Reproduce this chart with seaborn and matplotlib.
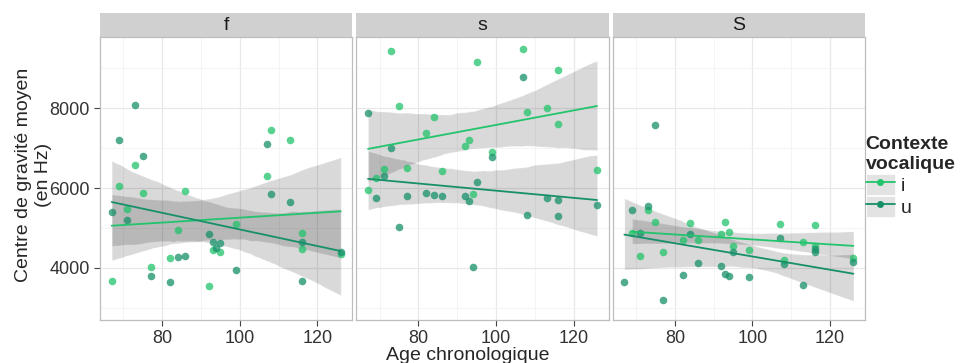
import numpy as np
import pandas as pd
import matplotlib
matplotlib.use('Agg')
import matplotlib.pyplot as plt
import seaborn as sns
from matplotlib.patches import Rectangle, Patch
from matplotlib.lines import Line2D

# age of each child (months), one i and one u value per child and per panel
ages = [67, 69, 71, 73, 75, 77, 82, 84, 86, 92, 93, 94, 95, 99, 107, 108, 113, 116, 116, 126]

f_i = [3680, 6050, 5480, 6570, 5880, 4030, 4240, 4960, 5920, 3540,
       4460, np.nan, 4410, 5110, 6300, 7440, 7200, 4880, 4480, 4350]
f_u = [5400, 7190, 5190, 8080, 6800, 3790, 3640, 4270, 4290, 4840,
       4650, 4500, 4620, 3960, 7100, 5850, 5650, 3680, 4650, 4390]

s_i = [5960, 6250, 6470, 9420, 8050, 6490, 7370, 7770, 6420, 7060,
       7200, 5860, 9150, 6890, 9480, 7890, 7990, 8940, 7590, 6450]
s_u = [7870, 5740, 6300, 6990, 5020, 5800, 5870, 5820, 5800, 5800,
       5670, 4030, 6150, 6780, 8780, 5330, 5750, 5710, 5290, 5570]

S_i = [np.nan, 4880, 4310, 5440, 5160, 4390, 4700, 5120, 4690, 4840,
       5140, 4890, 4540, 4440, 5090, 4200, 4640, 5080, 4540, 4250]
S_u = [3640, 5440, 4880, 5560, 7570, 3200, 3820, 4840, 4120, 4040,
       3840, 3790, 4390, 3770, 4740, 4110, 3580, 4390, 4480, 4150]

panels = ['f', 's', 'S']
vowels = ['i', 'u']
colors = {'i': '#22c46c', 'u': '#17906a'}

values = {('f', 'i'): f_i, ('f', 'u'): f_u,
          ('s', 'i'): s_i, ('s', 'u'): s_u,
          ('S', 'i'): S_i, ('S', 'u'): S_u}

rows = []
for (p, v), ys in values.items():
    for a, y in zip(ages, ys):
        rows.append({'panel': p, 'voyelle': v, 'age': a, 'cog': y})
df = pd.DataFrame(rows)

sns.set_style('white')
plt.rcParams['font.family'] = ['Liberation Sans', 'DejaVu Sans']

fig, axes = plt.subplots(1, 3, figsize=(9.77, 3.63), dpi=100, sharey=True)
fig.subplots_adjust(left=0.1024, right=0.8854, bottom=0.1185, top=0.898, wspace=0.016)

for k, (ax, p) in enumerate(zip(axes, panels)):
    sub = df[df.panel == p]
    # grey confidence bands first
    for v in vowels:
        d = sub[sub.voyelle == v]
        sns.regplot(data=d, x='age', y='cog', ax=ax, scatter=False, color='black',
                    line_kws={'alpha': 0}, seed=0)
    # then points and fitted lines
    for v in vowels:
        d = sub[sub.voyelle == v]
        sns.regplot(data=d, x='age', y='cog', ax=ax, ci=None, color=colors[v],
                    scatter_kws={'s': 30, 'alpha': .75, 'linewidths': 0},
                    line_kws={'lw': 1.3})

    ax.set_xlim(64, 129)
    ax.set_ylim(2700, 9775)
    ax.set_xticks([80, 100, 120])
    ax.set_xticks([70, 90, 110], minor=True)
    ax.set_yticks([4000, 6000, 8000])
    ax.set_yticks([3000, 5000, 7000, 9000], minor=True)
    ax.set_axisbelow(True)
    ax.grid(which='major', color='#e8e8e8', lw=0.9)
    ax.grid(which='minor', color='#f3f3f3', lw=0.6)
    ax.set_xlabel('')
    ax.set_ylabel('')
    for sp in ax.spines.values():
        sp.set_color('#bdbdbd')
        sp.set_linewidth(0.9)
    ax.tick_params(which='major', length=4, width=0.8, color='#444444',
                   labelsize=13, labelcolor='#333333', bottom=True, left=(k == 0))
    ax.tick_params(which='minor', length=0)

    # facet strip
    ax.add_patch(Rectangle((0, 1), 1, 0.085, transform=ax.transAxes, clip_on=False,
                           facecolor='#d0d0d0', edgecolor='none'))
    ax.text(0.5, 1.0425, p, transform=ax.transAxes, ha='center', va='center',
            fontsize=14, color='#1a1a1a')

fig.text(0.034, 0.518, 'Centre de gravité moyen\n(en Hz)', rotation=90,
         ha='center', va='center', fontsize=14)
fig.text(0.479, 0.02, 'Age chronologique', ha='center', va='center', fontsize=14)

# legend keys: grey square with line + point, like ggplot
handles = [(Patch(facecolor='#e3e3e3', edgecolor='white', lw=0.5),
            Line2D([0], [0], color=colors[v], lw=1.3, marker='o', markersize=4))
           for v in vowels]
leg = fig.legend(handles, vowels, title='Contexte\nvocalique', loc='upper left',
                 bbox_to_anchor=(0.886, 0.625), frameon=False, borderaxespad=0,
                 borderpad=0, fontsize=14, handlelength=1.5, handleheight=1.3,
                 handletextpad=0.3, labelspacing=0.05, alignment='left',
                 title_fontproperties={'weight': 'bold', 'size': 14})

fig.savefig('out.png', dpi=100)
